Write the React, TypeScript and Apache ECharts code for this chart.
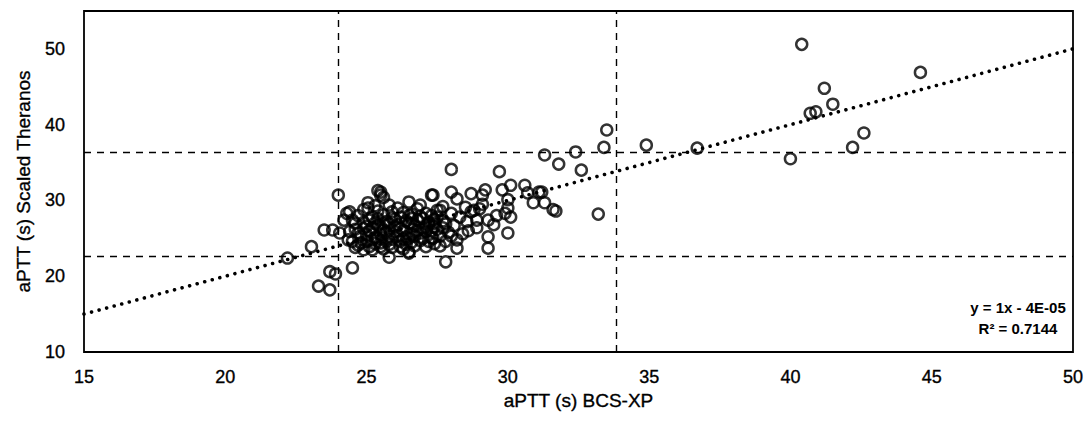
import React, { useEffect, useRef } from "react";
import * as echarts from "echarts";

// Scatter values (BCS-XP on x, scaled Theranos on y)
const bcsXp: number[] = [
  40.4, 44.6, 41.2, 41.5, 40.7, 40.9, 42.6, 42.2, 40.0, 36.7, 34.9, 33.5, 33.4, 32.4, 31.3, 31.8, 32.6, 33.2,
  31.6, 31.7, 31.3, 31.2, 30.9, 31.1, 30.7, 30.6, 30.1, 29.8, 30.0, 29.2, 29.1, 29.7, 28.0, 28.0, 27.35, 30.1,
  29.3, 29.5, 30.0, 29.3, 28.2, 28.2, 29.3, 27.8, 27.7, 28.8, 28.7, 27.5, 28.0, 28.9, 27.4, 28.55, 28.9, 27.35,
  22.2, 23.05, 23.5, 23.8, 23.7, 23.9, 24.5, 23.3, 23.7, 24.0,
  25.5, 25.4, 25.5, 26.5, 27.3, 25.05, 24.4, 25.8, 25.05, 25.6, 27.6, 24.3, 24.2, 24.05, 24.35, 25.8, 26.5, 24.9,
  25.5, 27.1, 25.2, 26.5,
  24.6, 24.8, 24.9, 25.0, 25.1, 25.2, 25.3, 25.4, 25.5, 25.6, 25.7, 25.8, 25.9, 26.0, 26.1, 26.2, 26.3, 26.4,
  26.5, 26.6, 26.7, 26.8, 26.9, 27.0, 27.1, 27.2, 27.3, 27.4, 27.5, 27.6, 27.7, 27.8, 24.7, 24.9, 25.1, 25.3,
  25.5, 25.7, 25.9, 26.1, 26.3, 26.5, 26.7, 26.9, 27.1, 27.3, 27.5, 24.5, 24.7, 25.0, 25.2, 25.4, 25.6, 25.8,
  26.0, 26.2, 26.4, 26.6, 26.8, 27.0, 27.2, 24.8, 25.3, 25.9, 26.3, 26.6, 27.4, 27.9, 28.1, 28.3, 28.4, 24.4,
  24.6, 26.9, 27.7, 28.5, 28.6, 29.0, 29.6, 30.0, 29.9, 28.2, 28.7, 29.1,
  25.0, 25.2, 25.4, 25.6, 25.8, 26.0, 26.2, 26.4, 26.6, 26.8, 27.0, 27.2, 25.1, 25.3, 25.5, 25.7, 25.9, 26.1,
  26.3, 26.5, 26.7, 26.9, 27.1, 27.3, 24.9, 24.6, 24.5, 27.6, 27.8, 28.0, 26.2, 25.6, 24.7, 25.4, 26.6, 27.4,
];
const scaledTheranos: number[] = [
  50.6, 46.9, 44.8, 42.7, 41.5, 41.7, 38.9, 37.0, 35.5, 36.9, 37.3, 39.3, 37.0, 36.4, 36.0, 34.8, 34.0, 28.2,
  28.8, 28.6, 29.7, 31.1, 29.7, 31.1, 31.0, 32.0, 32.0, 31.4, 30.1, 31.4, 30.7, 33.8, 34.1, 31.1, 30.7, 27.8,
  27.4, 26.8, 25.7, 25.2, 24.8, 23.7, 23.7, 21.9, 26.4, 28.7, 28.5, 28.7, 28.3, 27.4, 27.0, 27.2, 26.4, 25.0,
  22.4, 23.9, 26.1, 26.1, 20.6, 20.3, 21.1, 18.7, 18.2, 30.7,
  31.1, 31.3, 30.7, 29.8, 30.7, 29.0, 28.5, 29.4, 29.7, 30.4, 28.7, 28.3, 27.4, 25.7, 24.8, 22.5, 23.2, 23.5,
  23.9, 23.9, 23.5, 23.05,
  26.2, 25.3, 27.1, 24.6, 26.0, 27.8, 25.1, 26.7, 24.4, 28.1, 25.8, 26.9, 24.9, 27.5, 25.4, 26.3, 28.4, 24.2,
  27.0, 25.6, 26.6, 28.9, 24.7, 27.6, 25.9, 26.8, 28.0, 24.3, 26.2, 25.3, 27.3, 24.6, 24.1, 28.8, 23.9, 29.3,
  25.5, 27.2, 23.8, 29.0, 26.0, 25.0, 24.0, 27.9, 26.5, 25.1, 27.8, 27.4, 25.7, 26.6, 24.8, 28.6, 26.1, 24.2,
  26.5, 27.8, 25.2, 28.2, 26.0, 25.0, 27.1, 24.4, 27.0, 28.5, 23.6, 26.9, 26.6, 25.8, 26.7, 27.8, 25.6, 25.9,
  23.8, 29.4, 29.2, 29.1, 26.0, 28.9, 28.0, 29.0, 28.3, 30.2, 30.9, 29.5,
  25.5, 26.4, 25.0, 27.0, 25.3, 25.9, 24.6, 27.3, 24.5, 27.4, 26.3, 24.6, 27.4, 24.3, 26.5, 24.6, 27.7, 26.8,
  24.9, 28.0, 25.3, 25.7, 28.3, 26.0, 26.3, 27.0, 24.6, 24.0, 26.9, 25.3, 23.9, 23.6, 28.0, 27.6, 27.6, 27.5,
];

// Linear trendline y = 1x - 4E-05, drawn between the plot edges
const trendX: number[] = [15, 50];
const trendY: number[] = [15, 50];

// Dashed reference lines
const refX: number[] = [24, 33.85];
const refY: number[] = [22.7, 36.4];

const equationText = "y = 1x - 4E-05";
const r2Text = "R² = 0.7144";

const FONT = "'Liberation Sans', Arial, Helvetica, sans-serif";
const INK = { color: "#000", fontFamily: FONT, textBorderColor: "#000", textBorderWidth: 0.35 };

export default function App() {
  const ref = useRef<HTMLDivElement>(null);

  useEffect(() => {
    document.body.style.margin = "0";
    if (!ref.current) return;
    const chart = echarts.init(ref.current, undefined, { renderer: "svg" });

    const points = bcsXp.map((x, i) => [x, scaledTheranos[i]]);
    const trend = trendX.map((x, i) => [x, trendY[i]]);

    chart.setOption({
      animation: false,
      backgroundColor: "#ffffff",
      textStyle: { fontFamily: FONT, color: "#000" },
      grid: {
        left: 84,
        right: 17,
        top: 11,
        bottom: 70,
        show: true,
        borderColor: "#000",
        borderWidth: 1.8,
        containLabel: false,
        outerBoundsMode: "none",
      },
      xAxis: {
        type: "value",
        min: 15,
        max: 50,
        interval: 5,
        name: "aPTT (s) BCS-XP",
        nameLocation: "middle",
        nameGap: 39,
        nameTextStyle: { fontSize: 19, ...INK },
        axisLine: { show: false },
        axisTick: { show: false },
        splitLine: { show: false },
        axisLabel: { fontSize: 18, margin: 16, ...INK },
      },
      yAxis: {
        type: "value",
        min: 10,
        max: 55,
        interval: 10,
        name: "aPTT (s) Scaled Theranos",
        nameLocation: "middle",
        nameGap: 51,
        nameTextStyle: { fontSize: 19, ...INK },
        axisLine: { show: false },
        axisTick: { show: false },
        splitLine: { show: false },
        axisLabel: { fontSize: 18, margin: 19, showMaxLabel: false, ...INK },
      },
      series: [
        {
          type: "scatter",
          data: points,
          symbol: "circle",
          symbolSize: 11,
          itemStyle: { color: "rgba(0,0,0,0)", borderColor: "#000", borderWidth: 2.5 },
          silent: true,
          markLine: {
            silent: true,
            symbol: ["none", "none"],
            label: { show: false },
            lineStyle: { color: "#000", type: [7, 6], width: 1.4 },
            data: [
              ...refX.map((v) => ({ xAxis: v })),
              ...refY.map((v) => ({ yAxis: v })),
            ],
          },
          z: 3,
        },
        {
          type: "line",
          data: trend,
          symbol: "none",
          silent: true,
          lineStyle: { color: "#000", width: 3.6, type: [0.01, 7.8], cap: "round" },
          z: 4,
        },
      ],
      graphic: [
        {
          type: "text",
          x: 1018,
          y: 297,
          style: {
            text: equationText + "\n" + r2Text,
            font: "bold 15px " + FONT,
            fill: "#000",
            align: "center",
            verticalAlign: "top",
            lineHeight: 21,
          },
        },
      ],
    });

    return () => chart.dispose();
  }, []);

  return <div ref={ref} style={{ width: 1090, height: 422 }} />;
}
